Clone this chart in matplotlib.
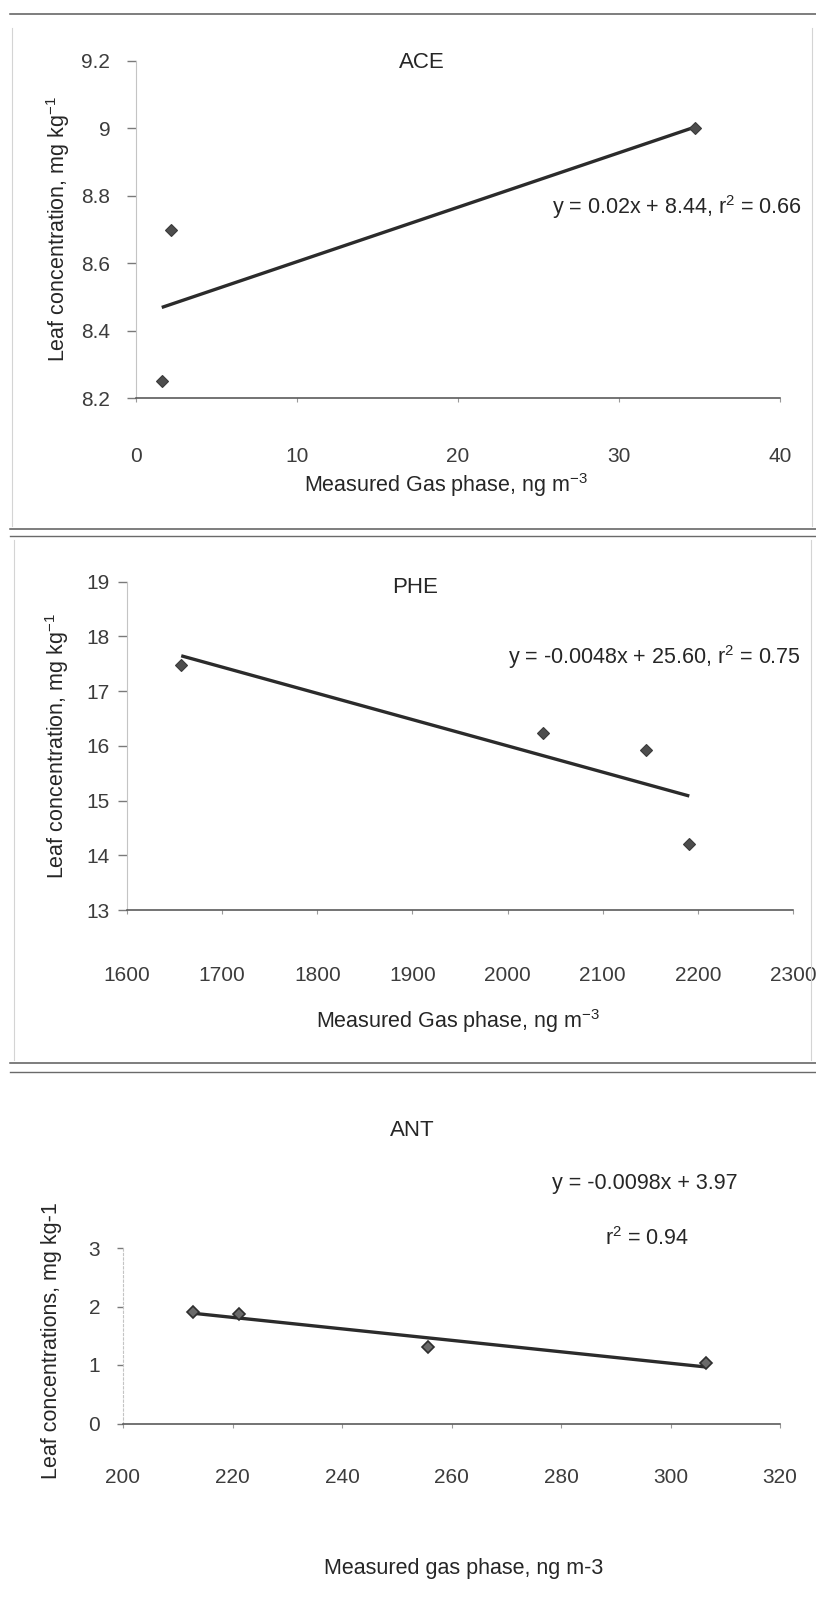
import numpy as np
import matplotlib
matplotlib.use("Agg")
import matplotlib.pyplot as plt
from matplotlib.lines import Line2D

plt.rcParams["font.family"] = ["Liberation Sans", "DejaVu Sans"]
plt.rcParams["mathtext.fontset"] = "custom"
plt.rcParams["mathtext.rm"] = "Liberation Sans"
plt.rcParams["mathtext.it"] = "Liberation Sans:italic"
plt.rcParams["mathtext.bf"] = "Liberation Sans:bold"
plt.rcParams["mathtext.default"] = "regular"

# ---------------- data ----------------
# Acenaphthene (ACE)
ace_gas = [1.6, 2.15, 34.7]
ace_leaf = [8.25, 8.70, 9.00]
ace_xticks = [0, 10, 20, 30, 40]
ace_yticks = [8.2, 8.4, 8.6, 8.8, 9.0, 9.2]
ace_ytick_labels = ["8.2", "8.4", "8.6", "8.8", "9", "9.2"]

# Phenanthrene (PHE)
phe_gas = [1657, 2037, 2145, 2191]
phe_leaf = [17.471, 16.242, 15.929, 14.213]
phe_xticks = [1600, 1700, 1800, 1900, 2000, 2100, 2200, 2300]
phe_yticks = [13, 14, 15, 16, 17, 18, 19]

# Anthracene (ANT)
ant_gas = [212.8, 221.1, 255.7, 306.5]
ant_leaf = [1.907, 1.871, 1.309, 1.031]
ant_xticks = [200, 220, 240, 260, 280, 300, 320]
ant_yticks = [0, 1, 2, 3]

# ---------------- page ----------------
W, H = 816, 1598
fig = plt.figure(figsize=(W / 100, H / 100), dpi=100)
fig.patch.set_facecolor("white")

TXT = "#262626"
TICK = "#3c3c3c"


def fx(x):
    return x / W


def fy(y):
    return 1 - y / H


def rect(x0, x1, ytop, ybot):
    return [fx(x0), fy(ybot), (x1 - x0) / W, (ybot - ytop) / H]


def fit(x, y):
    x = np.asarray(x, float)
    y = np.asarray(y, float)
    slope, icpt = np.polyfit(x, y, 1)
    r2 = np.corrcoef(x, y)[0, 1] ** 2
    return slope, icpt, r2


def panel(r, x, y, xlim, ylim, xticks, yticks, ylabels, xpad, ypad, ylen,
          left_style="-", marker_kw=None):
    ax = fig.add_axes(r)
    ax.set_facecolor("none")
    ax.set_xlim(*xlim)
    ax.set_ylim(*ylim)
    ax.set_xticks(xticks)
    ax.set_xticklabels([str(t) for t in xticks])
    ax.set_yticks(yticks)
    ax.set_yticklabels(ylabels if ylabels is not None else [str(t) for t in yticks])
    for s in ("top", "right"):
        ax.spines[s].set_visible(False)
    ax.spines["bottom"].set_color("#4d4d4d")
    ax.spines["bottom"].set_linewidth(1.1)
    ax.spines["left"].set_color("#c4c4c4")
    ax.spines["left"].set_linewidth(0.8)
    ax.spines["left"].set_linestyle(left_style)
    ax.tick_params(axis="x", length=3, width=0.8, color="#9a9a9a",
                   pad=xpad, labelsize=15, labelcolor=TICK)
    ax.tick_params(axis="y", length=ylen, width=1.0, color="#7a7a7a",
                   pad=ypad, labelsize=15, labelcolor=TICK)

    slope, icpt, r2 = fit(x, y)
    xs = np.array([min(x), max(x)])
    ax.plot(xs, slope * xs + icpt, color="#2b2b2b", lw=2.4,
            solid_capstyle="butt", zorder=2)
    kw = dict(marker="D", ms=6, mfc="#4d4d4d", mec="#3a3a3a", mew=0.8)
    if marker_kw:
        kw.update(marker_kw)
    ax.plot(x, y, ls="none", zorder=3, clip_on=False, **kw)
    return ax, slope, icpt, r2


# ---- ACE ----
ax1, s1, b1, r1 = panel(rect(136, 780, 61, 398), ace_gas, ace_leaf, (0, 40),
                        (8.2, 9.2), ace_xticks, ace_yticks, ace_ytick_labels,
                        xpad=32, ypad=12, ylen=6.5)
fig.text(fx(422), fy(63), "ACE", fontsize=16, color=TXT, ha="center", va="center")
fig.text(fx(552), fy(214), f"y = {s1:.2f}x + {b1:.2f}, r$^{{2}}$ = {r1:.2f}",
         fontsize=15.5, color=TXT, ha="left", va="baseline")
ax1.set_xlabel("Measured Gas phase, ng m$^{-3}$", fontsize=15.5, color=TXT,
               va="baseline", ha="center")
ax1.xaxis.set_label_coords(fx(446), fy(492), transform=fig.transFigure)
ax1.set_ylabel("Leaf concentration, mg kg$^{-1}$", fontsize=15.5, color=TXT,
               va="center", ha="center")
ax1.yaxis.set_label_coords(fx(58), fy(229), transform=fig.transFigure)

# ---- PHE ----
ax2, s2, b2, r2_ = panel(rect(127, 793, 581.7, 910), phe_gas, phe_leaf,
                         (1600, 2300), (13, 19), phe_xticks, phe_yticks, None,
                         xpad=37, ypad=6, ylen=6.5)
fig.text(fx(415), fy(587), "PHE", fontsize=16, color=TXT, ha="center", va="center")
fig.text(fx(508), fy(664), f"y = {s2:.4f}x + {b2:.2f}, r$^{{2}}$ = {r2_:.2f}",
         fontsize=15.5, color=TXT, ha="left", va="baseline")
ax2.set_xlabel("Measured Gas phase, ng m$^{-3}$", fontsize=15.5, color=TXT,
               va="baseline", ha="center")
ax2.xaxis.set_label_coords(fx(458), fy(1028), transform=fig.transFigure)
ax2.set_ylabel("Leaf concentration, mg kg$^{-1}$", fontsize=15.5, color=TXT,
               va="center", ha="center")
ax2.yaxis.set_label_coords(fx(57), fy(746), transform=fig.transFigure)

# ---- ANT ----
ax3, s3, b3, r3 = panel(rect(123, 780, 1248, 1423.5), ant_gas, ant_leaf,
                        (200, 320), (0, 3), ant_xticks, ant_yticks, None,
                        xpad=29, ypad=12, ylen=4.5, left_style=(0, (2, 2)),
                        marker_kw=dict(ms=6.5, mfc="#6a6a6a", mec="#2e2e2e", mew=1.2))
fig.text(fx(412), fy(1130), "ANT", fontsize=16, color=TXT, ha="center", va="center")
fig.text(fx(552), fy(1189), f"y = {s3:.4f}x + {b3:.2f}",
         fontsize=15.5, color=TXT, ha="left", va="baseline")
fig.text(fx(605), fy(1245), f"r$^{{2}}$ = {r3:.2f}",
         fontsize=15.5, color=TXT, ha="left", va="baseline")
ax3.set_xlabel("Measured gas phase, ng m-3", fontsize=15.5, color=TXT,
               va="baseline", ha="center")
ax3.xaxis.set_label_coords(fx(464), fy(1574), transform=fig.transFigure)
ax3.set_ylabel("Leaf concentrations, mg kg-1", fontsize=15.5, color=TXT,
               va="center", ha="center")
ax3.yaxis.set_label_coords(fx(52), fy(1341), transform=fig.transFigure)

# ---------------- frame rules between the figures ----------------
def hrule(y, x0=10, x1=816, color="#5a5a5a", lw=1.1):
    fig.add_artist(Line2D([fx(x0), fx(x1)], [fy(y), fy(y)], color=color, lw=lw,
                          transform=fig.transFigure))


def vrule(x, y0, y1, color="#d4d4d4", lw=0.8):
    fig.add_artist(Line2D([fx(x), fx(x)], [fy(y0), fy(y1)], color=color, lw=lw,
                          transform=fig.transFigure))


hrule(14)
hrule(529)
hrule(536, color="#6a6a6a", lw=1.0)
hrule(1063)
hrule(1072, color="#6a6a6a", lw=1.0)
vrule(12, 28, 526)
vrule(812, 28, 526)
vrule(14, 540, 1060)
vrule(811, 540, 1060)

fig.savefig("out.png", dpi=100, facecolor="white")
